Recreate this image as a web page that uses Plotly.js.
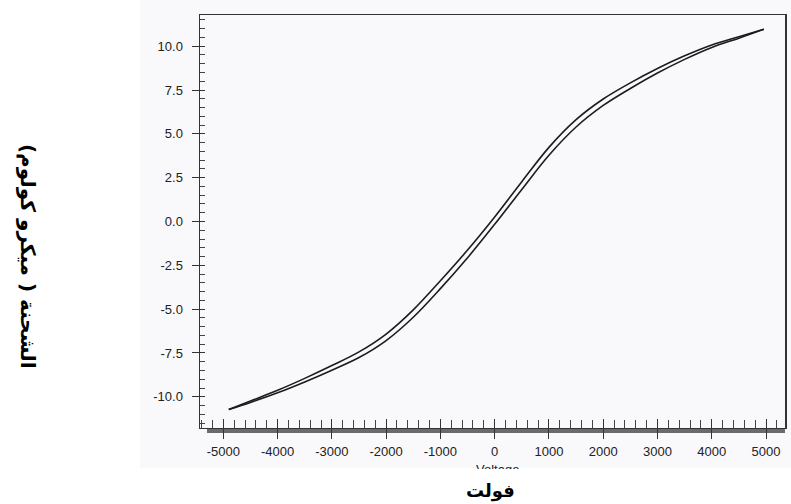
<!DOCTYPE html>
<html>
<head>
<meta charset="utf-8">
<script src="https://cdn.plot.ly/plotly-3.0.1.min.js"></script>
<style>html,body{margin:0;padding:0;background:#fff;}#chart{width:791px;height:504px;}</style>
</head>
<body>
<div id="chart"></div>
<script>
// Voltage (V) sample points along the loop
var voltage = [-4900, -4500, -4000, -3500, -3000, -2500, -2000, -1500, -1000, -500, 0, 500, 1000, 1500, 2000, 2500, 3000, 3500, 4000, 4500, 4960];
// Upper (descending) branch, charge in microcoulomb
var chargeUpper = [-10.72, -10.24, -9.63, -8.95, -8.22, -7.44, -6.42, -5.04, -3.38, -1.63, 0.26, 2.27, 4.23, 5.81, 6.99, 7.91, 8.73, 9.45, 10.07, 10.54, 10.97];
// Lower (ascending) branch
var chargeLower = [-10.72, -10.32, -9.77, -9.15, -8.48, -7.76, -6.79, -5.46, -3.83, -2.07, -0.16, 1.83, 3.78, 5.39, 6.62, 7.59, 8.47, 9.25, 9.93, 10.46, 10.97];

var xTickVals = [-5000, -4000, -3000, -2000, -1000, 0, 1000, 2000, 3000, 4000, 5000];
var xTickText = ['-5000', '-4000', '-3000', '-2000', '-1000', '0', '1000', '2000', '3000', '4000', '5000'];
var yTickVals = [-10, -7.5, -5, -2.5, 0, 2.5, 5, 7.5, 10];
var yTickText = ['-10.0', '-7.5', '-5.0', '-2.5', '0.0', '2.5', '5.0', '7.5', '10.0'];
var xTitle = 'فولت';
var yTitle = 'الشحنة ( ميكرو كولوم)';
var xSubTitle = 'Voltage';

var lineStyle = {color: '#1c1c1c', width: 1.6, shape: 'spline', smoothing: 1};
var traces = [
  {x: voltage, y: chargeUpper, mode: 'lines', line: lineStyle, hoverinfo: 'skip', showlegend: false},
  {x: voltage, y: chargeLower, mode: 'lines', line: lineStyle, hoverinfo: 'skip', showlegend: false},
  {x: [], y: [], xaxis: 'x2', yaxis: 'y2', mode: 'lines', hoverinfo: 'skip', showlegend: false}
];

var xr = [-5430, 5350], yr = [-11.78, 11.78];
var layout = {
  width: 791, height: 504,
  margin: {l: 200, r: 6, t: 15, b: 76},
  paper_bgcolor: '#ffffff',
  plot_bgcolor: 'rgba(0,0,0,0)',
  showlegend: false,
  xaxis: {
    range: xr, tickvals: xTickVals, ticktext: xTickText,
    ticks: 'outside', ticklen: 10, tickwidth: 1, tickcolor: '#333',
    minor: {dtick: 200, tick0: 0, ticks: 'inside', ticklen: 8, tickwidth: 1, tickcolor: '#444', showgrid: false},
    showgrid: false, zeroline: false, showline: true, linecolor: '#333', linewidth: 1, mirror: true,
    ticklabelstandoff: 1,
    tickfont: {family: 'Liberation Sans Narrow, Arial Narrow, Arial, sans-serif', size: 13, color: '#222'}
  },
  yaxis: {
    range: yr, tickvals: yTickVals, ticktext: yTickText,
    ticks: 'outside', ticklen: 7, tickwidth: 1, tickcolor: '#333',
    minor: {dtick: 0.5, tick0: 0, ticks: 'inside', ticklen: 5, tickwidth: 1, tickcolor: '#444', showgrid: false},
    showgrid: false, zeroline: false, showline: true, linecolor: '#333', linewidth: 1.5, mirror: true,
    ticklabelstandoff: 6,
    tickfont: {family: 'Liberation Sans, Arial, sans-serif', size: 13, color: '#222'}
  },
  xaxis2: {
    range: xr, tickvals: xTickVals, overlaying: 'x', anchor: 'y2', side: 'bottom',
    ticks: 'inside', ticklen: 9, tickwidth: 1, tickcolor: '#333', showticklabels: false,
    showgrid: false, zeroline: false, showline: false
  },
  yaxis2: {
    range: yr, tickvals: yTickVals, overlaying: 'y', anchor: 'x2', side: 'left',
    ticks: 'inside', ticklen: 5, tickwidth: 1, tickcolor: '#333', showticklabels: false,
    showgrid: false, zeroline: false, showline: false
  },
  shapes: [
    {type: 'rect', xref: 'paper', yref: 'paper', x0: -0.1026, x1: 1.0103, y0: -0.0969, y1: 1.04,
     fillcolor: '#f9f9fb', line: {width: 0}, layer: 'below'},
    {type: 'rect', xref: 'paper', yref: 'paper', x0: 0.012, x1: 1.0, y0: -0.0121, y1: 0,
     fillcolor: '#6a6a6a', line: {width: 0}, layer: 'below'}
  ],
  annotations: [
    {text: xSubTitle, xref: 'paper', yref: 'paper', x: 0.508, y: -0.0795, xanchor: 'center', yanchor: 'top',
     showarrow: false, height: 7, valign: 'top', borderpad: 0,
     font: {family: 'Liberation Sans, Arial, sans-serif', size: 13, color: '#222'}},
    {text: '<b>' + xTitle + '</b>', xref: 'paper', yref: 'paper', x: 0.497, y: -0.1525, xanchor: 'center', yanchor: 'middle',
     showarrow: false, font: {family: 'DejaVu Sans, sans-serif', size: 18, color: '#000'}},
    {text: '<b>' + yTitle + '</b>', xref: 'paper', yref: 'paper', x: -0.294, y: 0.4165, xanchor: 'center', yanchor: 'middle',
     showarrow: false, textangle: 90, font: {family: 'DejaVu Sans, sans-serif', size: 20, color: '#000'}}
  ]
};

Plotly.newPlot('chart', traces, layout, {staticPlot: true, displayModeBar: false});
</script>
</body>
</html>
